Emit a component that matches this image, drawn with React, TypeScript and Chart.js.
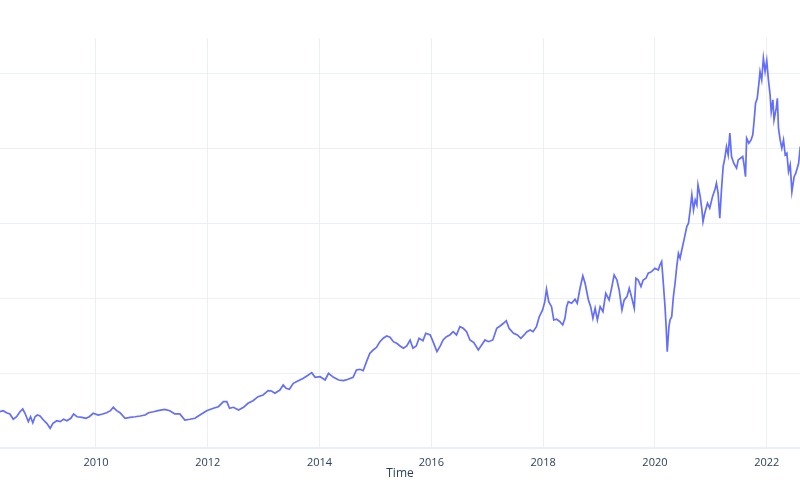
import { useEffect, useRef } from "react"
import { Chart, registerables } from "chart.js"

Chart.register(...registerables)

// decimal years
const dates = [
  2008.19, 2008.28, 2008.34, 2008.40, 2008.46, 2008.52, 2008.58, 2008.64, 2008.69, 2008.73,
  2008.79, 2008.83, 2008.87, 2008.91, 2008.95, 2009.00, 2009.06, 2009.12, 2009.18, 2009.23,
  2009.30, 2009.36, 2009.42, 2009.48, 2009.55, 2009.60, 2009.66, 2009.75, 2009.82, 2009.88,
  2009.95, 2010.04, 2010.12, 2010.19, 2010.26, 2010.31, 2010.37, 2010.43, 2010.52, 2010.61,
  2010.70, 2010.79, 2010.88, 2010.94, 2011.03, 2011.11, 2011.23, 2011.32, 2011.41, 2011.50,
  2011.59, 2011.68, 2011.77, 2011.86, 2011.98, 2012.10, 2012.19, 2012.28, 2012.34, 2012.39,
  2012.46, 2012.55, 2012.64, 2012.72, 2012.81, 2012.90, 2012.99, 2013.08, 2013.14, 2013.20,
  2013.29, 2013.35, 2013.40, 2013.46, 2013.53, 2013.62, 2013.71, 2013.80, 2013.86, 2013.92,
  2014.01, 2014.10, 2014.16, 2014.25, 2014.34, 2014.43, 2014.51, 2014.60, 2014.66, 2014.72,
  2014.78, 2014.84, 2014.90, 2014.96, 2015.02, 2015.08, 2015.14, 2015.20, 2015.26, 2015.32,
  2015.38, 2015.44, 2015.50, 2015.56, 2015.62, 2015.67, 2015.73, 2015.78, 2015.85, 2015.90,
  2015.98, 2016.03, 2016.10, 2016.16, 2016.21, 2016.27, 2016.33, 2016.39, 2016.45, 2016.51,
  2016.57, 2016.63, 2016.69, 2016.76, 2016.84, 2016.90, 2016.96, 2017.02, 2017.10, 2017.17,
  2017.23, 2017.29, 2017.34, 2017.39, 2017.47, 2017.54, 2017.60, 2017.66, 2017.71, 2017.77,
  2017.82, 2017.88, 2017.93, 2017.99, 2018.03, 2018.06, 2018.10, 2018.15, 2018.19, 2018.24,
  2018.30, 2018.35, 2018.39, 2018.42, 2018.45, 2018.51, 2018.57, 2018.61, 2018.66, 2018.71,
  2018.75, 2018.81, 2018.85, 2018.89, 2018.93, 2018.97, 2019.02, 2019.07, 2019.12, 2019.18,
  2019.23, 2019.27, 2019.32, 2019.36, 2019.41, 2019.45, 2019.50, 2019.54, 2019.58, 2019.63,
  2019.66, 2019.70, 2019.75, 2019.79, 2019.84, 2019.88, 2019.94, 2020.00, 2020.06, 2020.09,
  2020.12, 2020.15, 2020.18, 2020.20, 2020.22, 2020.25, 2020.27, 2020.30, 2020.33, 2020.36,
  2020.39, 2020.42, 2020.45, 2020.48, 2020.52, 2020.57, 2020.60, 2020.63, 2020.66, 2020.69,
  2020.72, 2020.75, 2020.77, 2020.81, 2020.84, 2020.86, 2020.89, 2020.94, 2020.98, 2021.03,
  2021.08, 2021.10, 2021.13, 2021.16, 2021.19, 2021.22, 2021.25, 2021.28, 2021.31, 2021.34,
  2021.37, 2021.41, 2021.46, 2021.49, 2021.53, 2021.57, 2021.59, 2021.62, 2021.64, 2021.68,
  2021.72, 2021.75, 2021.77, 2021.80, 2021.83, 2021.86, 2021.88, 2021.91, 2021.94, 2021.97,
  2022.00, 2022.03, 2022.06, 2022.08, 2022.11, 2022.13, 2022.17, 2022.19, 2022.21, 2022.24,
  2022.27, 2022.30, 2022.33, 2022.36, 2022.39, 2022.42, 2022.45, 2022.49, 2022.52, 2022.57,
  2022.60, 2022.65,
]

const prices = [
  48.1, 48.5, 49.9, 47.2, 45.5, 38.4, 41.8, 48.5, 52.1, 46.4,
  35.2, 41.8, 33.8, 41.8, 44.1, 42.8, 37.4, 33.0, 26.3, 33.0,
  36.5, 35.2, 38.4, 36.5, 39.7, 45.5, 41.8, 41.0, 39.7, 41.8,
  46.4, 44.1, 45.5, 47.2, 49.9, 54.4, 49.9, 47.2, 39.7, 41.0,
  41.8, 42.8, 44.1, 47.2, 48.5, 49.9, 51.7, 49.9, 45.5, 45.5,
  37.4, 38.4, 39.7, 44.1, 49.9, 53.1, 55.2, 61.9, 61.9, 53.1,
  54.4, 50.8, 54.4, 59.8, 63.2, 68.6, 70.9, 76.6, 76.2, 73.1,
  77.5, 84.2, 79.8, 78.5, 86.5, 90.0, 93.2, 97.6, 100.7, 94.5,
  95.3, 90.9, 99.9, 94.5, 90.9, 90.0, 91.9, 94.5, 104.3, 105.2,
  103.3, 115.4, 126.6, 131.0, 134.6, 142.1, 146.7, 149.7, 148.0, 142.1,
  140.0, 136.4, 133.3, 136.4, 144.4, 133.3, 136.4, 146.7, 143.5, 153.4,
  151.1, 142.1, 128.8, 136.4, 144.4, 148.8, 151.1, 155.5, 151.1, 162.2,
  160.0, 155.5, 144.4, 140.8, 131.0, 137.7, 144.4, 142.1, 144.4, 160.0,
  163.1, 166.7, 170.2, 160.0, 153.4, 151.1, 146.7, 151.1, 155.5, 157.8,
  155.5, 162.2, 175.5, 184.5, 195.6, 212.2, 195.6, 188.9, 171.1, 172.1,
  168.9, 164.5, 173.4, 188.9, 195.6, 193.5, 198.8, 193.5, 213.5, 230.0,
  220.2, 197.9, 188.9, 173.4, 186.8, 171.1, 188.9, 182.2, 206.8, 197.9,
  215.7, 231.3, 224.6, 211.2, 184.5, 197.9, 202.3, 213.5, 202.3, 186.8,
  226.9, 224.6, 215.7, 224.6, 226.9, 233.6, 235.7, 240.3, 238.0, 244.7,
  249.1, 220.2, 188.9, 162.2, 128.8, 162.2, 171.1, 175.5, 202.3, 220.2,
  242.4, 260.3, 253.6, 264.7, 278.1, 295.9, 300.4, 318.2, 338.3, 318.2,
  331.6, 324.9, 351.6, 336.0, 318.2, 302.6, 313.8, 327.2, 320.5, 336.0,
  347.2, 353.9, 340.5, 307.1, 344.9, 376.1, 387.3, 402.8, 391.7, 420.8,
  389.5, 380.6, 374.0, 385.1, 387.3, 389.5, 380.6, 362.7, 414.1, 407.4,
  411.8, 418.5, 434.1, 460.9, 467.5, 487.6, 503.1, 492.0, 521.0, 503.1,
  517.8, 492.0, 472.0, 449.6, 465.3, 438.5, 454.2, 467.5, 427.4, 411.8,
  400.7, 411.8, 391.7, 394.0, 369.4, 378.4, 342.7, 362.7, 367.3, 380.6,
  402.8, 395.0,
]

const tickYears = [2010, 2012, 2014, 2016, 2018, 2020, 2022]
const valueGrid = [0, 100, 200, 300, 400, 500]

const gridColor = "#EBF0F8"
const fontColor = "#2a3f5f"

export default function App() {
  const chartRef = useRef<HTMLCanvasElement>(null)
  const chartInstance = useRef<Chart | null>(null)

  useEffect(() => {
    if (!chartRef.current) return
    if (chartInstance.current) chartInstance.current.destroy()

    const points = dates.map((d, i) => ({ x: d, y: prices[i] }))

    chartInstance.current = new Chart(chartRef.current, {
      type: "line",
      data: {
        datasets: [
          {
            data: points,
            borderColor: "#636efa",
            borderWidth: 1.7,
            pointRadius: 0,
            tension: 0,
          },
        ],
      },
      options: {
        animation: false,
        responsive: true,
        maintainAspectRatio: false,
        layout: { padding: { top: 38, bottom: 15, left: 0, right: 0 } },
        plugins: {
          legend: { display: false },
          tooltip: { enabled: false },
        },
        scales: {
          x: {
            type: "linear",
            min: 2008.283,
            max: 2022.595,
            afterBuildTicks: (scale: any) => {
              scale.ticks = tickYears.map((v) => ({ value: v }))
            },
            afterFit: (scale: any) => {
              scale.height = 37
            },
            border: { display: false },
            grid: { color: gridColor, lineWidth: 1, drawTicks: false },
            ticks: {
              padding: 8,
              autoSkip: false,
              maxRotation: 0,
              color: fontColor,
              font: { family: "'Open Sans', sans-serif", size: 11 },
              callback: (v: any) => String(v),
            },
            title: {
              display: true,
              text: "Time",
              color: fontColor,
              font: { family: "'Open Sans', sans-serif", size: 12 },
            },
          },
          y: {
            min: 0,
            max: 548,
            afterBuildTicks: (scale: any) => {
              scale.ticks = valueGrid.map((v) => ({ value: v }))
            },
            afterFit: (scale: any) => {
              scale.width = 0
            },
            border: { display: false },
            grid: {
              color: gridColor,
              drawTicks: false,
              lineWidth: (ctx: any) => (ctx.tick && ctx.tick.value === 0 ? 2 : 1),
            },
            ticks: { display: false },
          },
        },
      },
    })

    return () => {
      if (chartInstance.current) {
        chartInstance.current.destroy()
        chartInstance.current = null
      }
    }
  }, [])

  return (
    <div style={{ position: "fixed", left: 0, top: 0, width: 800, height: 500, background: "#fff" }}>
      <canvas ref={chartRef} />
    </div>
  )
}
